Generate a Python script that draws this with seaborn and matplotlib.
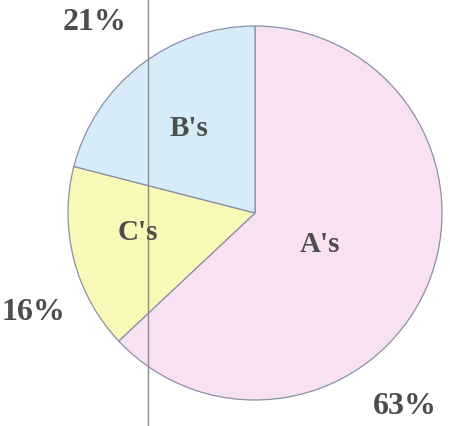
import matplotlib
matplotlib.use("Agg")
import matplotlib.pyplot as plt
import seaborn as sns

#%% Data
categories = ["A's", "C's", "B's"]
shares = [63, 16, 21]
pct_labels = ["63%", "16%", "21%"]
wedge_colors = ["#f9e1f4", "#f9f8b6", "#d6ecf8"]

sns.set_theme(style="white")
plt.rcParams['font.family'] = ['Liberation Serif', 'DejaVu Serif']

fig = plt.figure(figsize=(4.5, 4.26), dpi=100)
ax = fig.add_axes([0, 0, 1, 1])

# pie, clockwise from the top
cx, cy, r = 255, 213, 187
wedges, _ = ax.pie(shares, colors=wedge_colors, startangle=90, counterclock=False,
                   center=(cx, cy), radius=r, frame=True,
                   wedgeprops=dict(edgecolor="#8a8fa8", linewidth=0.9))
ax.set_xlim(0, 450)
ax.set_ylim(0, 426)
ax.set_aspect('auto')
ax.set_axis_off()

# category labels inside the wedges
inner_pos = [(320, 181), (138, 193), (189, 298)]
for (x, y), name in zip(inner_pos, categories):
    ax.text(x, y, name, ha='center', va='center', fontsize=21,
            fontweight='bold', color='#4d4d4d')

# percentages outside the pie
outer_pos = [(405, 20), (33, 114), (95, 404)]
for (x, y), txt in zip(outer_pos, pct_labels):
    ax.text(x, y, txt, ha='center', va='center', fontsize=23,
            fontweight='bold', color='#4d4d4d')

# stray vertical rule from the scan
ax.plot([148, 148], [0, 426], color='#8c8c8c', linewidth=1)

fig.savefig("out.png", dpi=100)
